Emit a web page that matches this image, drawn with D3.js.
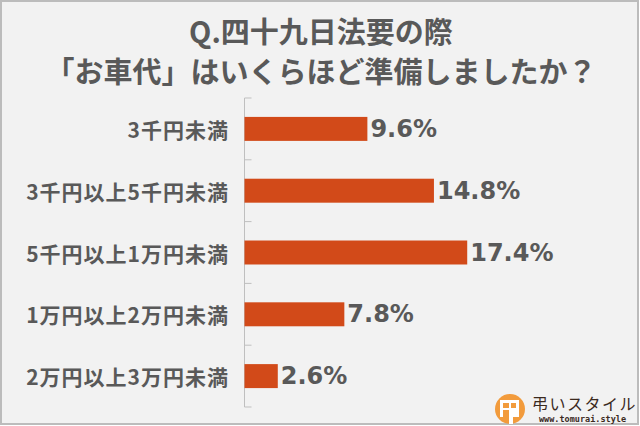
<!DOCTYPE html>
<html>
<head>
<meta charset="utf-8">
<script src="https://cdn.jsdelivr.net/npm/d3@7"></script>
<style>
  html, body { margin: 0; padding: 0; background: #ffffff; }
  svg { display: block; }
</style>
</head>
<body>
<svg id="chart" width="640" height="426"></svg>
<script>
const titleLines = ["Q.四十九日法要の際", "「お車代」はいくらほど準備しましたか？"];
const categories = ["3千円未満", "3千円以上5千円未満", "5千円以上1万円未満", "1万円以上2万円未満", "2万円以上3万円未満"];
const values = [9.6, 14.8, 17.4, 7.8, 2.6];
const valueLabels = ["9.6%", "14.8%", "17.4%", "7.8%", "2.6%"];
const brandName = "弔いスタイル";
const brandUrl = "www.tomurai.style";

const svg = d3.select("#chart");
const textColor = "#595959";
const barColor = "#d24a19";
const cjk = "'Noto Sans CJK JP', 'Noto Sans', sans-serif";
const latin = "'DejaVu Sans', Verdana, sans-serif";

// background + border
svg.append("rect").attr("x", 0).attr("y", 0).attr("width", 640).attr("height", 426).attr("fill", "#ffffff");
svg.append("rect").attr("x", 1).attr("y", 1).attr("width", 637).attr("height", 423)
  .attr("fill", "#f2f2f2").attr("stroke", "#bcbcbc").attr("stroke-width", 2);

// title
svg.append("g").selectAll("text").data(titleLines).join("text")
  .attr("x", 321)
  .attr("y", (d, i) => 30 + i * 40)
  .attr("text-anchor", "middle")
  .attr("dominant-baseline", "central")
  .attr("font-family", cjk)
  .attr("font-weight", "bold")
  .attr("font-size", 29)
  .attr("fill", textColor)
  .text(d => d);

// scales
const p = 0.612;
const y = d3.scaleBand().domain(categories).range([98, 407]).paddingInner(p).paddingOuter(p / 2);
const x = d3.scaleLinear().domain([0, 20]).range([244.5, 500.5]);

// axis line + ticks at band boundaries
const step = y.step();
const boundaries = categories.map(c => y(c) - step * p / 2).concat([407]);
svg.append("line").attr("x1", x(0)).attr("x2", x(0)).attr("y1", 98).attr("y2", 407)
  .attr("stroke", "#bfbfbf").attr("stroke-width", 1);
svg.append("g").selectAll("line").data(boundaries).join("line")
  .attr("x1", x(0)).attr("x2", x(0) + 7)
  .attr("y1", d => d).attr("y2", d => d)
  .attr("stroke", "#bfbfbf").attr("stroke-width", 1);

// bars
svg.append("g").selectAll("rect").data(values).join("rect")
  .attr("x", x(0))
  .attr("y", (d, i) => y(categories[i]))
  .attr("width", d => x(d) - x(0))
  .attr("height", y.bandwidth())
  .attr("fill", barColor);

// category labels
svg.append("g").selectAll("text").data(categories).join("text")
  .attr("x", 229)
  .attr("y", d => y(d) + y.bandwidth() / 2)
  .attr("text-anchor", "end")
  .attr("dominant-baseline", "central")
  .attr("font-family", cjk)
  .attr("font-weight", "bold")
  .attr("font-size", 21)
  .attr("letter-spacing", 1)
  .attr("fill", textColor)
  .text(d => d);

// value labels
svg.append("g").selectAll("text").data(values).join("text")
  .attr("x", d => x(d) + 3)
  .attr("y", (d, i) => y(categories[i]) + y.bandwidth() / 2)
  .attr("dominant-baseline", "central")
  .attr("font-family", latin)
  .attr("font-weight", "bold")
  .attr("font-size", 24)
  .attr("fill", textColor)
  .text((d, i) => valueLabels[i]);

// logo
const logo = svg.append("g");
logo.append("circle").attr("cx", 510).attr("cy", 409).attr("r", 15).attr("fill", "#f29b3c");
logo.append("rect").attr("x", 500).attr("y", 400).attr("width", 19).attr("height", 17).attr("fill", "#ffffff");
logo.append("rect").attr("x", 503).attr("y", 403).attr("width", 6).attr("height", 5).attr("fill", "#f29b3c");
logo.append("rect").attr("x", 511).attr("y", 403).attr("width", 5).attr("height", 5).attr("fill", "#f29b3c");
logo.append("rect").attr("x", 503).attr("y", 410).attr("width", 6).attr("height", 7).attr("fill", "#f29b3c");
logo.append("rect").attr("x", 509).attr("y", 417).attr("width", 4).attr("height", 7).attr("fill", "#ffffff");
logo.append("text").attr("x", 532).attr("y", 403)
  .attr("dominant-baseline", "central")
  .attr("font-family", cjk).attr("font-size", 16).attr("letter-spacing", 1.5).attr("fill", "#3b2a1e")
  .text(brandName);
logo.append("text").attr("x", 539).attr("y", 422)
  .attr("font-family", "'DejaVu Sans Mono', monospace").attr("font-weight", "bold")
  .attr("font-size", 8.5).attr("fill", "#3b2a1e")
  .text(brandUrl);
</script>
</body>
</html>
